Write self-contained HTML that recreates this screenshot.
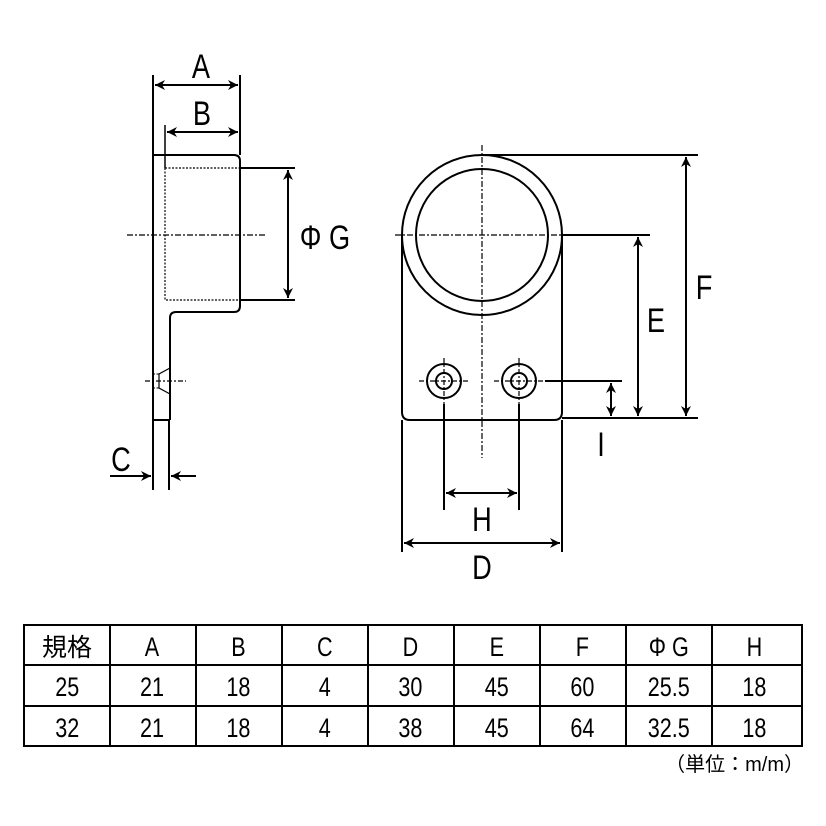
<!DOCTYPE html>
<html><head><meta charset="utf-8"><style>
html,body{margin:0;padding:0;background:#fff;}
svg{display:block}
text{font-family:"Liberation Sans","Noto Sans CJK JP",sans-serif;fill:#000}
</style></head><body>
<svg width="826" height="826" viewBox="0 0 826 826" xmlns="http://www.w3.org/2000/svg">
<defs>
<marker id="ar" viewBox="0 0 10 10" refX="10" refY="5" markerWidth="10" markerHeight="10" markerUnits="userSpaceOnUse" orient="auto-start-reverse">
<path d="M0,0 L10,5 L0,10 L3,5 z" fill="#000"/></marker>
</defs>
<g stroke="#000" stroke-width="2" fill="none">
<line x1="153" y1="75" x2="153" y2="490"/>
<path d="M153,155 H234 Q240,155 240,161 V306 Q240,312 234,312 H176 Q170,312 170,318 V420"/>
<line x1="169" y1="420" x2="169" y2="490"/>
<line x1="153" y1="420" x2="169" y2="420"/>
<line x1="240" y1="75" x2="240" y2="155"/>
<line x1="165" y1="125" x2="165" y2="168" stroke-width="1.5"/>
<path d="M165,168 H240 M165,168 V300 H240" stroke-width="1.2" stroke-dasharray="2,1.5"/>
<line x1="240" y1="168" x2="295" y2="168"/>
<line x1="240" y1="300" x2="295" y2="300"/>
<line x1="288" y1="170" x2="288" y2="298" marker-start="url(#ar)" marker-end="url(#ar)"/>
<line x1="155" y1="85" x2="238" y2="85" marker-start="url(#ar)" marker-end="url(#ar)"/>
<line x1="167" y1="132" x2="238" y2="132" marker-start="url(#ar)" marker-end="url(#ar)"/>
<line x1="127" y1="235" x2="266" y2="235" stroke-width="1.2" stroke-dasharray="6,2,2,2"/>
<path d="M170,368 L159,374 V388 L170,394" stroke-width="1.2"/>
<path d="M153,374 H159 M153,388 H159" stroke-width="1" stroke-dasharray="2,1.5"/>
<line x1="145" y1="381" x2="186" y2="381" stroke-width="1.2" stroke-dasharray="5,2,2,2"/>
<line x1="110" y1="476" x2="151" y2="476" marker-end="url(#ar)"/>
<line x1="196" y1="476" x2="171" y2="476" marker-end="url(#ar)"/>
<circle cx="482" cy="235" r="80"/>
<circle cx="482" cy="235" r="66"/>
<path d="M402,235 V412 Q402,420 410,420 H554 Q562,420 562,412 V235"/>
<circle cx="444" cy="381" r="17"/><circle cx="444" cy="381" r="8"/>
<circle cx="519" cy="381" r="17"/><circle cx="519" cy="381" r="8"/>
<line x1="482" y1="145" x2="482" y2="458" stroke-width="1.2" stroke-dasharray="6,2,2,2"/>
<line x1="395" y1="235" x2="562" y2="235" stroke-width="1.2" stroke-dasharray="6,2,2,2"/>
<line x1="419" y1="381" x2="470" y2="381" stroke-width="1.2" stroke-dasharray="5,2,2,2"/>
<line x1="494" y1="381" x2="545" y2="381" stroke-width="1.2" stroke-dasharray="5,2,2,2"/>
<line x1="444" y1="358" x2="444" y2="404" stroke-width="1.2" stroke-dasharray="5,2,2,2"/>
<line x1="519" y1="358" x2="519" y2="404" stroke-width="1.2" stroke-dasharray="5,2,2,2"/>
<line x1="482" y1="155" x2="698" y2="155"/>
<line x1="562" y1="418" x2="698" y2="418"/>
<line x1="686" y1="157" x2="686" y2="416" marker-start="url(#ar)" marker-end="url(#ar)"/>
<line x1="562" y1="235" x2="650" y2="235"/>
<line x1="638" y1="237" x2="638" y2="416" marker-start="url(#ar)" marker-end="url(#ar)"/>
<line x1="545" y1="381" x2="622" y2="381"/>
<line x1="611" y1="383" x2="611" y2="416" marker-start="url(#ar)" marker-end="url(#ar)"/>
<line x1="444" y1="404" x2="444" y2="510"/>
<line x1="519" y1="404" x2="519" y2="510"/>
<line x1="446" y1="493" x2="517" y2="493" marker-start="url(#ar)" marker-end="url(#ar)"/>
<line x1="402" y1="420" x2="402" y2="552"/>
<line x1="562" y1="420" x2="562" y2="552"/>
<line x1="404" y1="543" x2="560" y2="543" marker-start="url(#ar)" marker-end="url(#ar)"/>
<rect x="24" y="625" width="778" height="121"/>
<line x1="24" y1="665" x2="802" y2="665"/>
<line x1="24" y1="706" x2="802" y2="706"/>
<path d="M110,625V746 M196,625V746 M282,625V746 M368,625V746 M454,625V746 M540,625V746 M626,625V746 M712,625V746"/>
</g>
<g font-size="34" text-anchor="middle">
<text x="201" y="78" transform="translate(201 0) scale(0.8 1) translate(-201 0)">A</text>
<text x="202" y="125" transform="translate(202 0) scale(0.8 1) translate(-202 0)">B</text>
<text x="325" y="249" transform="translate(325 0) scale(0.8 1) translate(-325 0)">Φ G</text>
<text x="121" y="471" transform="translate(121 0) scale(0.8 1) translate(-121 0)">C</text>
<text x="704" y="299" transform="translate(704 0) scale(0.8 1) translate(-704 0)">F</text>
<text x="656" y="332" transform="translate(656 0) scale(0.8 1) translate(-656 0)">E</text>
<text x="601" y="456" transform="translate(601 0) scale(0.8 1) translate(-601 0)">I</text>
<text x="482" y="531" transform="translate(482 0) scale(0.8 1) translate(-482 0)">H</text>
<text x="482" y="579" transform="translate(482 0) scale(0.8 1) translate(-482 0)">D</text>
</g>
<g font-size="27" text-anchor="middle">
<text x="67" y="656" font-size="25">規格</text>
<g transform="scale(0.8 1)">
<text x="190" y="656">A</text><text x="298" y="656">B</text><text x="406" y="656">C</text><text x="513" y="656">D</text><text x="621" y="656">E</text><text x="728" y="656">F</text><text x="836" y="656">Φ G</text><text x="943" y="656">H</text>
<text x="84" y="696">25</text><text x="190" y="696">21</text><text x="298" y="696">18</text><text x="406" y="696">4</text><text x="513" y="696">30</text><text x="621" y="696">45</text><text x="728" y="696">60</text><text x="836" y="696">25.5</text><text x="943" y="696">18</text>
<text x="84" y="737">32</text><text x="190" y="737">21</text><text x="298" y="737">18</text><text x="406" y="737">4</text><text x="513" y="737">38</text><text x="621" y="737">45</text><text x="728" y="737">64</text><text x="836" y="737">32.5</text><text x="943" y="737">18</text>
</g>
<text x="804" y="771" font-size="20" text-anchor="end">（単位：m/m）</text>
</g>
</svg>
</body></html>
